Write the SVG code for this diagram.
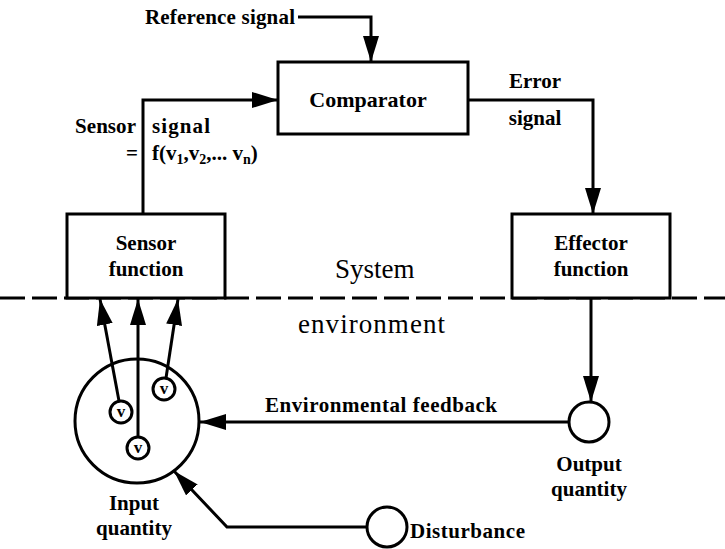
<svg xmlns="http://www.w3.org/2000/svg" width="725" height="549" viewBox="0 0 725 549">
  <style>
    .box { fill: #fff; stroke: #000; stroke-width: 3; }
    .circ { fill: #fff; stroke: #000; stroke-width: 3; }
    .ring { fill: none; stroke: #000; stroke-width: 3; }
    .wire { fill: none; stroke: #000; stroke-width: 3; }
    .lbl { font-family: "Liberation Serif", "Times New Roman", serif; font-weight: bold; font-size: 21px; fill: #000; }
    .big { font-family: "Liberation Serif", "Times New Roman", serif; font-size: 27px; fill: #000; }
    .mid { text-anchor: middle; }
    .sub { font-size: 14px; }
  </style>
  <defs>
    <marker id="arrow" markerUnits="userSpaceOnUse" markerWidth="27" markerHeight="16" refX="26" refY="8" orient="auto">
      <path d="M0,0 L26,8 L0,16 z" fill="#000"/>
    </marker>
  </defs>

  <!-- system / environment boundary -->
  <line x1="0" y1="298" x2="725" y2="298" stroke="#000" stroke-width="3" stroke-dasharray="25 7"/>
  <text class="big" x="335" y="278">System</text>
  <text class="big" x="298" y="333" textLength="147">environment</text>

  <!-- connectors -->
  <g id="connectors">
    <path class="wire" d="M298,17 H371 V62" marker-end="url(#arrow)"/>
    <path class="wire" d="M143,214 V100 H278" marker-end="url(#arrow)"/>
    <path class="wire" d="M468,100 H593 V214" marker-end="url(#arrow)"/>
    <path class="wire" d="M591,298 V402" marker-end="url(#arrow)"/>
    <path class="wire" d="M569,422 H200" marker-end="url(#arrow)"/>
    <path class="wire" d="M367,527 H227 L174,471" marker-end="url(#arrow)"/>
    <path class="wire" d="M119,401 L100,299" marker-end="url(#arrow)"/>
    <path class="wire" d="M138,437 V299" marker-end="url(#arrow)"/>
    <path class="wire" d="M166,378 L178,299" marker-end="url(#arrow)"/>
  </g>

  <!-- connector labels -->
  <text class="lbl" x="145" y="24" textLength="150">Reference signal</text>
  <text class="lbl" x="75" y="133" textLength="61">Sensor</text>
  <text class="lbl" x="152" y="133" textLength="58">signal</text>
  <text class="lbl" x="126" y="160">=</text>
  <text class="lbl" x="152" y="160">f(v<tspan class="sub" dy="4">1</tspan><tspan dy="-4">,v</tspan><tspan class="sub" dy="4">2</tspan><tspan dy="-4">,... v</tspan><tspan class="sub" dy="4">n</tspan><tspan dy="-4">)</tspan></text>
  <text class="lbl mid" x="535" y="88">Error</text>
  <text class="lbl mid" x="535" y="125">signal</text>
  <text class="lbl" x="265" y="412" textLength="232">Environmental feedback</text>

  <g id="comparator">
    <rect class="box" x="278" y="62" width="190" height="72"/>
    <text class="lbl mid" x="368" y="107" style="font-size:22px">Comparator</text>
  </g>

  <g id="sensor-function">
    <rect class="box" x="67" y="214" width="158" height="84"/>
    <text class="lbl mid" x="146" y="250">Sensor</text>
    <text class="lbl mid" x="146" y="276">function</text>
  </g>

  <g id="effector-function">
    <rect class="box" x="512" y="214" width="158" height="84"/>
    <text class="lbl mid" x="591" y="250">Effector</text>
    <text class="lbl mid" x="591" y="276">function</text>
  </g>

  <g id="output-quantity">
    <circle class="circ" cx="589" cy="422" r="20"/>
    <text class="lbl mid" x="589" y="471">Output</text>
    <text class="lbl mid" x="589" y="496">quantity</text>
  </g>

  <g id="input-quantity">
    <circle class="ring" cx="137" cy="421" r="62"/>
    <text class="lbl mid" x="134" y="510">Input</text>
    <text class="lbl mid" x="134" y="535">quantity</text>
  </g>

  <g id="v1">
    <circle class="circ" cx="121" cy="412" r="11"/>
    <text class="lbl mid" x="121" y="417" style="font-size:17px">v</text>
  </g>
  <g id="v2">
    <circle class="circ" cx="138" cy="448" r="11"/>
    <text class="lbl mid" x="138" y="453" style="font-size:17px">v</text>
  </g>
  <g id="v3">
    <circle class="circ" cx="164" cy="389" r="11"/>
    <text class="lbl mid" x="164" y="394" style="font-size:17px">v</text>
  </g>

  <g id="disturbance">
    <circle class="circ" cx="387" cy="527" r="20"/>
    <text class="lbl" x="410" y="538" textLength="115">Disturbance</text>
  </g>
</svg>
